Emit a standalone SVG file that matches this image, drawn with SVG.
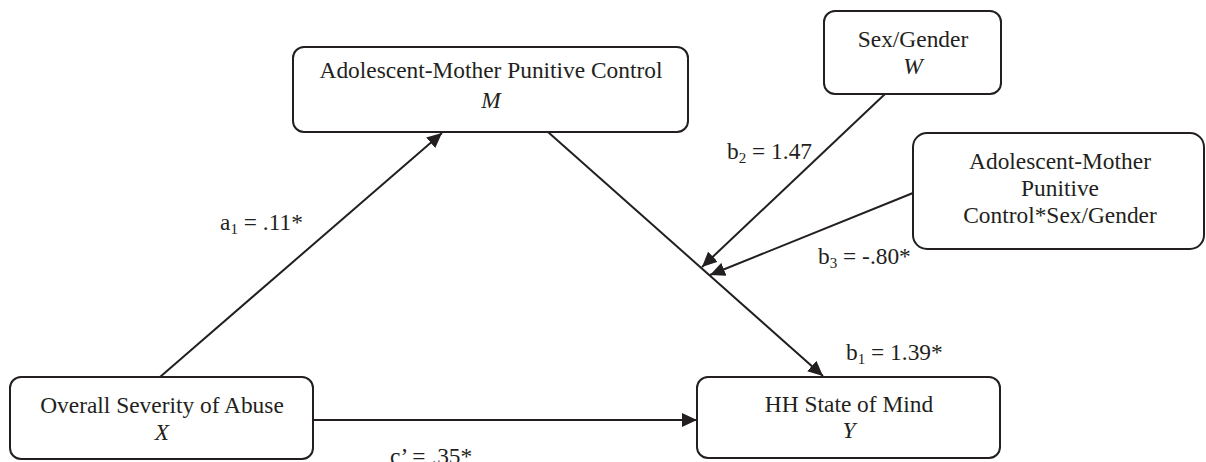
<svg xmlns="http://www.w3.org/2000/svg" width="1206" height="462" viewBox="0 0 1206 462">
<style>
.box{fill:#fff;stroke:#231f20;stroke-width:2}
.t{font-family:'Liberation Serif','Tinos','Times New Roman','Nimbus Roman','DejaVu Serif',serif;font-size:23.4px;fill:#231f20}
.c{text-anchor:middle}
.i{font-style:italic}
.s{font-size:15px}
.ln{stroke:#231f20;stroke-width:2;fill:none;marker-end:url(#ah)}
</style>
<defs>
<marker id="ah" markerUnits="userSpaceOnUse" markerWidth="16" markerHeight="14" refX="15" refY="7" orient="auto">
<path d="M0,0 L15,7 L0,14 Z" fill="#231f20"/>
</marker>
</defs>
<rect width="1206" height="462" fill="#fff"/>
<g id="connectors">
<line class="ln" x1="160" y1="377" x2="442" y2="133"/>
<line class="ln" x1="548" y1="132" x2="823" y2="376"/>
<line class="ln" x1="313" y1="420" x2="697" y2="420"/>
<line class="ln" x1="885" y1="94" x2="702" y2="267"/>
<line class="ln" x1="913" y1="193" x2="710" y2="275"/>
<text class="t" x="220" y="230">a<tspan class="s" dy="4">1</tspan><tspan dy="-4"> = .11*</tspan></text>
<text class="t" x="727" y="159">b<tspan class="s" dy="4">2</tspan><tspan dy="-4"> = 1.47</tspan></text>
<text class="t" x="818" y="264">b<tspan class="s" dy="4">3</tspan><tspan dy="-4"> = -.80*</tspan></text>
<text class="t" x="846" y="360">b<tspan class="s" dy="4">1</tspan><tspan dy="-4"> = 1.39*</tspan></text>
<text class="t" x="390" y="464">c’ = .35*</text>
</g>
<g id="node-M">
<rect class="box" x="293" y="47" width="395" height="85" rx="11"/>
<text class="t c" x="491" y="78">Adolescent-Mother Punitive Control</text>
<text class="t c i" x="491" y="108">M</text>
</g>
<g id="node-W">
<rect class="box" x="824" y="11" width="177" height="83" rx="11"/>
<text class="t c" x="913" y="47">Sex/Gender</text>
<text class="t c i" x="913" y="74">W</text>
</g>
<g id="node-MW">
<rect class="box" x="913" y="133" width="291" height="116" rx="14"/>
<text class="t c" x="1060" y="169">Adolescent-Mother</text>
<text class="t c" x="1060" y="196">Punitive</text>
<text class="t c" x="1060" y="223">Control*Sex/Gender</text>
</g>
<g id="node-X">
<rect class="box" x="10" y="377" width="303" height="82" rx="11"/>
<text class="t c" x="162" y="413">Overall Severity of Abuse</text>
<text class="t c i" x="162" y="440">X</text>
</g>
<g id="node-Y">
<rect class="box" x="697" y="377" width="303" height="81" rx="11"/>
<text class="t c" x="849" y="412">HH State of Mind</text>
<text class="t c i" x="849" y="438">Y</text>
</g>
</svg>
